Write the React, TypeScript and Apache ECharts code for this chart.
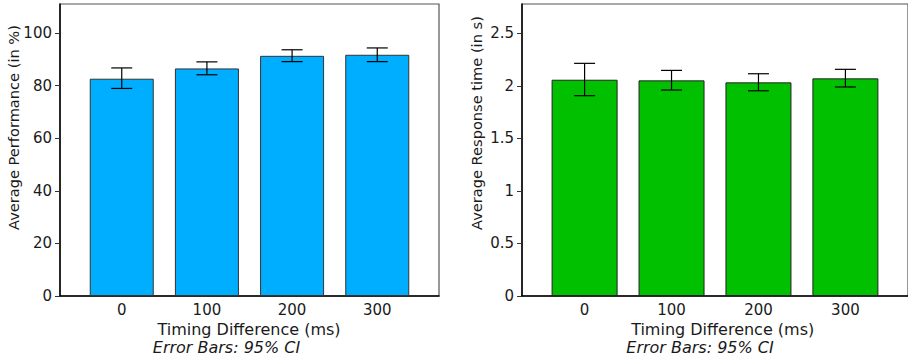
import React, { useEffect, useRef } from "react";
import * as echarts from "echarts";

const categories = [0, 100, 200, 300];
const perfValues = [82.6, 86.5, 91.3, 91.7];
const perfLow = [78.9, 84.1, 89.1, 89.1];
const perfHigh = [86.7, 89.0, 93.6, 94.3];
const rtValues = [2.059, 2.053, 2.034, 2.072];
const rtLow = [1.907, 1.961, 1.954, 1.99];
const rtHigh = [2.215, 2.148, 2.116, 2.158];
const perfTicks = [0, 20, 40, 60, 80, 100];
const rtTicks = [0, 0.5, 1, 1.5, 2, 2.5];

const FONT = "DejaVu Sans";
const TXT = "#1a1a1a";

function errorRender(params: any, api: any) {
  const x = api.value(0);
  const lo = api.value(1);
  const hi = api.value(2);
  const p1 = api.coord([x, hi]);
  const p2 = api.coord([x, lo]);
  const hw = 10.5;
  const st = { stroke: "#000", lineWidth: 1.2 };
  return {
    type: "group",
    children: [
      { type: "line", shape: { x1: p1[0], y1: p1[1], x2: p2[0], y2: p2[1] }, style: st },
      { type: "line", shape: { x1: p1[0] - hw, y1: p1[1], x2: p1[0] + hw, y2: p1[1] }, style: st },
      { type: "line", shape: { x1: p2[0] - hw, y1: p2[1], x2: p2[0] + hw, y2: p2[1] }, style: st },
    ],
  };
}

export default function App() {
  const ref = useRef<HTMLDivElement>(null);
  useEffect(() => {
    if (!ref.current) return;
    const chart = echarts.init(ref.current, undefined, { renderer: "svg" });
    const xAxisBase = (gi: number, min: number, max: number) => ({
      type: "value",
      gridIndex: gi,
      min,
      max,
      axisLine: { show: true, onZero: false, lineStyle: { color: "#000", width: 1.5 } },
      axisTick: { show: false },
      splitLine: { show: false },
      axisLabel: {
        customValues: categories,
        margin: 6,
        color: TXT,
        fontFamily: FONT,
        fontSize: 15,
      },
    });
    const yAxisBase = (gi: number, max: number, ticks: number[]) => ({
      type: "value",
      gridIndex: gi,
      min: 0,
      max,
      axisLine: { show: true, onZero: false, lineStyle: { color: "#000", width: 1.5 } },
      axisTick: { show: true, customValues: ticks, length: 5, lineStyle: { color: "#333" } },
      splitLine: { show: false },
      axisLabel: {
        customValues: ticks,
        margin: 8,
        color: TXT,
        fontFamily: FONT,
        fontSize: 15,
      },
    });
    const textStyle = (extra: any) => ({
      fill: TXT,
      fontFamily: FONT,
      fontSize: 14.6,
      ...extra,
    });
    const option: any = {
      animation: false,
      grid: [
        { left: 60, top: 4, width: 379, height: 292, show: true, borderColor: "#555", borderWidth: 1.2 },
        { left: 522, top: 4, width: 389, height: 292, show: true, borderColor: "#555", borderWidth: 1.2 },
      ],
      xAxis: [xAxisBase(0, -72.5, 372.5), xAxisBase(1, -72, 372)],
      yAxis: [yAxisBase(0, 111, perfTicks), yAxisBase(1, 2.78, rtTicks)],
      series: [
        {
          type: "bar",
          xAxisIndex: 0,
          yAxisIndex: 0,
          barWidth: 64,
          data: categories.map((c, i) => [c, perfValues[i]]),
          itemStyle: { color: "#00AEFF", borderColor: "#333", borderWidth: 1 },
        },
        {
          type: "custom",
          xAxisIndex: 0,
          yAxisIndex: 0,
          renderItem: errorRender,
          encode: { x: 0, y: [1, 2] },
          data: categories.map((c, i) => [c, perfLow[i], perfHigh[i]]),
          z: 5,
        },
        {
          type: "bar",
          xAxisIndex: 1,
          yAxisIndex: 1,
          barWidth: 66,
          data: categories.map((c, i) => [c, rtValues[i]]),
          itemStyle: { color: "#00C000", borderColor: "#222", borderWidth: 1 },
        },
        {
          type: "custom",
          xAxisIndex: 1,
          yAxisIndex: 1,
          renderItem: errorRender,
          encode: { x: 0, y: [1, 2] },
          data: categories.map((c, i) => [c, rtLow[i], rtHigh[i]]),
          z: 5,
        },
      ],
      graphic: [
        {
          type: "text",
          x: 13,
          y: 230,
          rotation: Math.PI / 2,
          style: textStyle({ text: "Average Performance (in %)", align: "left", verticalAlign: "middle" }),
        },
        {
          type: "text",
          x: 476,
          y: 230,
          rotation: Math.PI / 2,
          style: textStyle({ text: "Average Response time (in s)", align: "left", verticalAlign: "middle" }),
        },
        {
          type: "text",
          x: 249,
          y: 329,
          style: textStyle({ text: "Timing Difference (ms)", align: "center", verticalAlign: "middle", fontSize: 16 }),
        },
        {
          type: "text",
          x: 226.5,
          y: 347.5,
          style: textStyle({ text: "Error Bars: 95% CI", align: "center", verticalAlign: "middle", fontStyle: "italic", fontSize: 16 }),
        },
        {
          type: "text",
          x: 722.7,
          y: 329,
          style: textStyle({ text: "Timing Difference (ms)", align: "center", verticalAlign: "middle", fontSize: 16 }),
        },
        {
          type: "text",
          x: 700,
          y: 347.5,
          style: textStyle({ text: "Error Bars: 95% CI", align: "center", verticalAlign: "middle", fontStyle: "italic", fontSize: 16 }),
        },
      ],
    };
    chart.setOption(option);
    return () => chart.dispose();
  }, []);
  return (
    <div
      ref={ref}
      style={{ position: "fixed", left: 0, top: 0, width: 908, height: 359, background: "#fff" }}
    />
  );
}
